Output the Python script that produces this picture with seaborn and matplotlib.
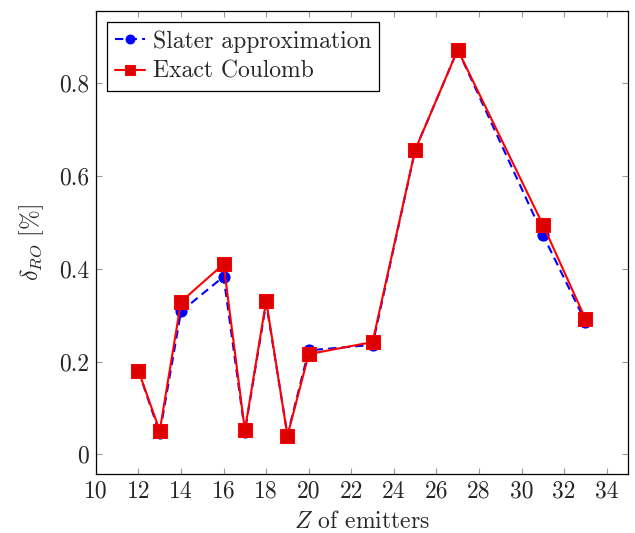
import matplotlib
matplotlib.use("Agg")
import matplotlib.pyplot as plt
import seaborn as sns
import pandas as pd

z = [12, 13, 14, 16, 17, 18, 19, 20, 23, 25, 27, 31, 33]
slater = [0.180, 0.045, 0.308, 0.383, 0.049, 0.326, 0.042, 0.224, 0.236, 0.656, 0.872, 0.473, 0.286]
exact = [0.180, 0.051, 0.329, 0.410, 0.052, 0.331, 0.040, 0.216, 0.242, 0.656, 0.872, 0.495, 0.292]
xticks = list(range(10, 36, 2))
yticks = [0, 0.2, 0.4, 0.6, 0.8]

sns.set_style("white")
plt.rcParams['font.family'] = ['cmr10', 'DejaVu Serif']
plt.rcParams['mathtext.fontset'] = 'cm'
plt.rcParams['axes.formatter.use_mathtext'] = True

df_s = pd.DataFrame({"Z": z, "d": slater})
df_e = pd.DataFrame({"Z": z, "d": exact})

fig = plt.figure(figsize=(6.35, 5.33), dpi=100)
ax = fig.add_axes([0.151, 0.111, 0.838, 0.868])

sns.lineplot(data=df_s, x="Z", y="d", ax=ax, color="blue", linestyle=(0, (4, 2.5)),
             linewidth=1.5, marker="o", markersize=8, markeredgecolor="blue",
             markerfacecolor="blue", label="Slater approximation")
sns.lineplot(data=df_e, x="Z", y="d", ax=ax, color="red", linestyle="-",
             linewidth=1.5, marker="s", markersize=9.5, markeredgecolor="red",
             markerfacecolor="#dd0000", label="Exact Coulomb")

ax.set_xlim(10, 35)
ax.set_ylim(-0.042, 0.955)
ax.set_xticks(xticks)
ax.set_xticklabels([str(t) for t in xticks])
ax.set_yticks(yticks)
ax.set_yticklabels(["0", "0.2", "0.4", "0.6", "0.8"])
ax.tick_params(direction="in", length=4, width=0.8, color="#999999",
               top=True, right=True, bottom=True, left=True, labelsize=17, pad=5)
for s in ax.spines.values():
    s.set_color("black")
    s.set_linewidth(0.9)

ax.set_xlabel(r"$Z$ of emitters", fontsize=17, labelpad=6)
ax.set_ylabel(r"$\delta_{RO}$ [%]", fontsize=17, labelpad=9)

leg = ax.legend(loc="upper left", fontsize=17, frameon=True, fancybox=False,
                edgecolor="black", framealpha=1, borderaxespad=0.45,
                handlelength=1.3, handletextpad=0.3, borderpad=0.35, labelspacing=0.35,
                markerscale=0.8)
leg.get_frame().set_linewidth(0.9)

fig.savefig("out.png", dpi=100)
